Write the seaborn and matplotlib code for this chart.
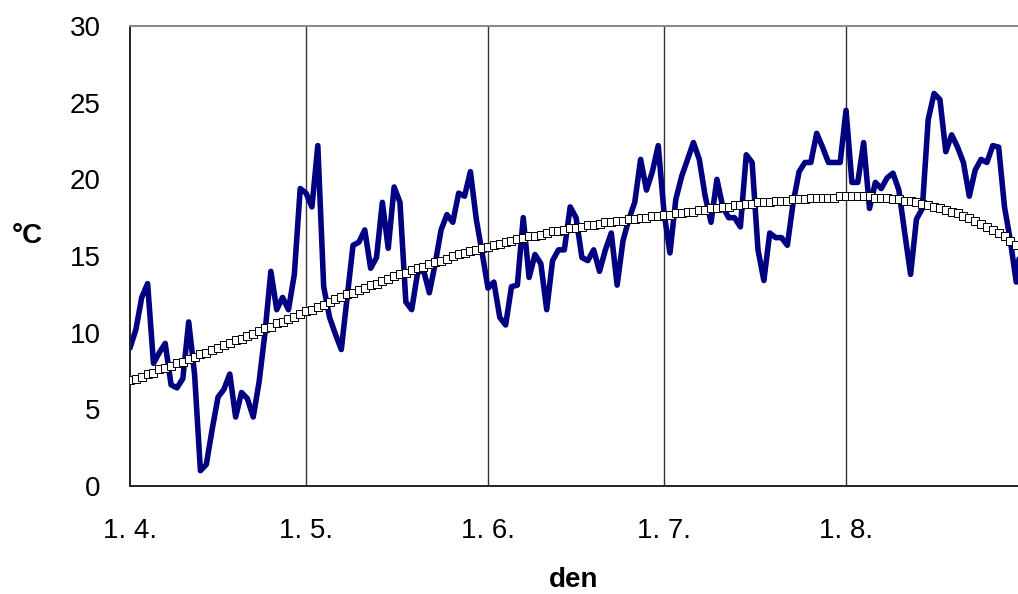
import matplotlib
matplotlib.use("Agg")
import matplotlib.pyplot as plt
import numpy as np
import pandas as pd
import seaborn as sns

# daily mean temperature, 1.4. - 31.8. (deg C)
temps = [
    9.0, 10.2, 12.3, 13.2, 8.0, 8.7, 9.3, 6.6, 6.4, 7.0,
    10.7, 7.3, 1.0, 1.4, 3.7, 5.8, 6.3, 7.3, 4.5, 6.1,
    5.7, 4.5, 6.8, 10.0, 14.0, 11.5, 12.3, 11.5, 13.8, 19.4,
    19.1, 18.2, 22.2, 13.0, 11.0, 9.9, 8.9, 12.3, 15.7, 15.9,
    16.7, 14.2, 14.9, 18.5, 15.5, 19.5, 18.5, 12.0, 11.5, 13.9,
    14.1, 12.6, 14.5, 16.7, 17.7, 17.2, 19.1, 18.9, 20.5, 17.4,
    15.2, 12.9, 13.3, 11.0, 10.5, 13.0, 13.1, 17.5, 13.6, 15.1,
    14.5, 11.5, 14.7, 15.4, 15.4, 18.2, 17.5, 14.9, 14.7, 15.4,
    14.0, 15.4, 16.5, 13.1, 16.0, 17.4, 18.5, 21.3, 19.3, 20.5,
    22.2, 17.8, 15.2, 18.7, 20.2, 21.3, 22.4, 21.3, 18.9, 17.2,
    20.0, 18.2, 17.5, 17.5, 16.9, 21.6, 21.1, 15.4, 13.4, 16.5,
    16.2, 16.2, 15.7, 18.5, 20.5, 21.1, 21.1, 23.0, 22.1, 21.1,
    21.1, 21.1, 24.5, 19.8, 19.8, 22.4, 18.1, 19.8, 19.4, 20.1,
    20.4, 19.3, 16.5, 13.8, 17.4, 18.1, 23.9, 25.6, 25.2, 21.8,
    22.9, 22.1, 21.1, 18.9, 20.6, 21.3, 21.1, 22.2, 22.1, 18.2,
    16.0, 13.3, 16.5,
]

# long-term normal curve
normal = [
    6.9, 7.0, 7.1, 7.3, 7.4, 7.6, 7.7, 7.8, 8.0, 8.1,
    8.3, 8.4, 8.6, 8.7, 8.9, 9.0, 9.2, 9.3, 9.5, 9.6,
    9.8, 9.9, 10.1, 10.3, 10.4, 10.6, 10.7, 10.9, 11.0, 11.2,
    11.4, 11.5, 11.7, 11.8, 12.0, 12.2, 12.3, 12.5, 12.6, 12.8,
    12.9, 13.1, 13.2, 13.4, 13.5, 13.7, 13.8, 13.9, 14.1, 14.2,
    14.3, 14.5, 14.6, 14.7, 14.8, 15.0, 15.1, 15.2, 15.3, 15.4,
    15.5, 15.6, 15.7, 15.8, 15.9, 16.0, 16.1, 16.2, 16.3, 16.3,
    16.4, 16.5, 16.6, 16.6, 16.7, 16.8, 16.8, 16.9, 17.0, 17.0,
    17.1, 17.2, 17.2, 17.3, 17.3, 17.4, 17.4, 17.5, 17.5, 17.6,
    17.6, 17.7, 17.7, 17.8, 17.8, 17.9, 17.9, 18.0, 18.0, 18.1,
    18.1, 18.2, 18.2, 18.3, 18.3, 18.4, 18.4, 18.5, 18.5, 18.5,
    18.6, 18.6, 18.6, 18.7, 18.7, 18.7, 18.8, 18.8, 18.8, 18.8,
    18.8, 18.9, 18.9, 18.9, 18.9, 18.9, 18.9, 18.8, 18.8, 18.8,
    18.7, 18.7, 18.6, 18.6, 18.5, 18.4, 18.3, 18.2, 18.1, 18.0,
    17.9, 17.8, 17.6, 17.5, 17.3, 17.1, 16.9, 16.7, 16.5, 16.3,
    16.0, 15.7, 15.4,
]

month_ticks = [0, 30, 61, 91, 122]
month_labels = ["1. 4.", "1. 5.", "1. 6.", "1. 7.", "1. 8."]
y_ticks = [0, 5, 10, 15, 20, 25, 30]

df = pd.DataFrame({"day": np.arange(len(temps)), "temp": temps, "normal": normal})

sns.set_style("white")
plt.rcParams["font.family"] = ["Liberation Sans", "DejaVu Sans"]
plt.rcParams["text.color"] = "black"
plt.rcParams["axes.labelcolor"] = "black"

fig = plt.figure(figsize=(10.18, 5.94), dpi=100)
ax = fig.add_axes([130 / 1018, 108 / 594, 888 / 1018, 460 / 594])

# vertical month grid lines
for t in month_ticks[1:]:
    ax.axvline(t, color="#333333", linewidth=1.0, zorder=0)

sns.lineplot(data=df, x="day", y="temp", ax=ax, color="#000080",
             linewidth=4.0, zorder=2)
sns.lineplot(data=df, x="day", y="normal", ax=ax, color="#b0b0b0",
             linewidth=1.0, marker="s", markersize=6,
             markerfacecolor="white", markeredgecolor="#000000",
             markeredgewidth=0.7, zorder=3)

ax.set_xlim(0, 151.3)
ax.set_ylim(0, 30)
ax.set_xticks(month_ticks)
ax.set_xticklabels(month_labels)
ax.set_yticks(y_ticks)

ax.tick_params(axis="both", direction="out", length=9, width=1.0,
               color="#333333", labelcolor="black", labelsize=20, pad=12)
ax.tick_params(axis="x", pad=14)

for side in ["left", "bottom"]:
    ax.spines[side].set_color("#222222")
    ax.spines[side].set_linewidth(1.4)
ax.spines["top"].set_color("#888888")
ax.spines["top"].set_linewidth(1.4)
ax.spines["right"].set_visible(False)

ax.set_xlabel("den", fontsize=20, fontweight="bold", va="center")
ax.xaxis.set_label_coords(0.5, -0.204)
ax.set_ylabel("°C", fontsize=20, fontweight="bold", rotation=0,
              ha="center", va="center")
ax.yaxis.set_label_coords(-0.116, 0.543)

fig.savefig("out.png", dpi=100)
